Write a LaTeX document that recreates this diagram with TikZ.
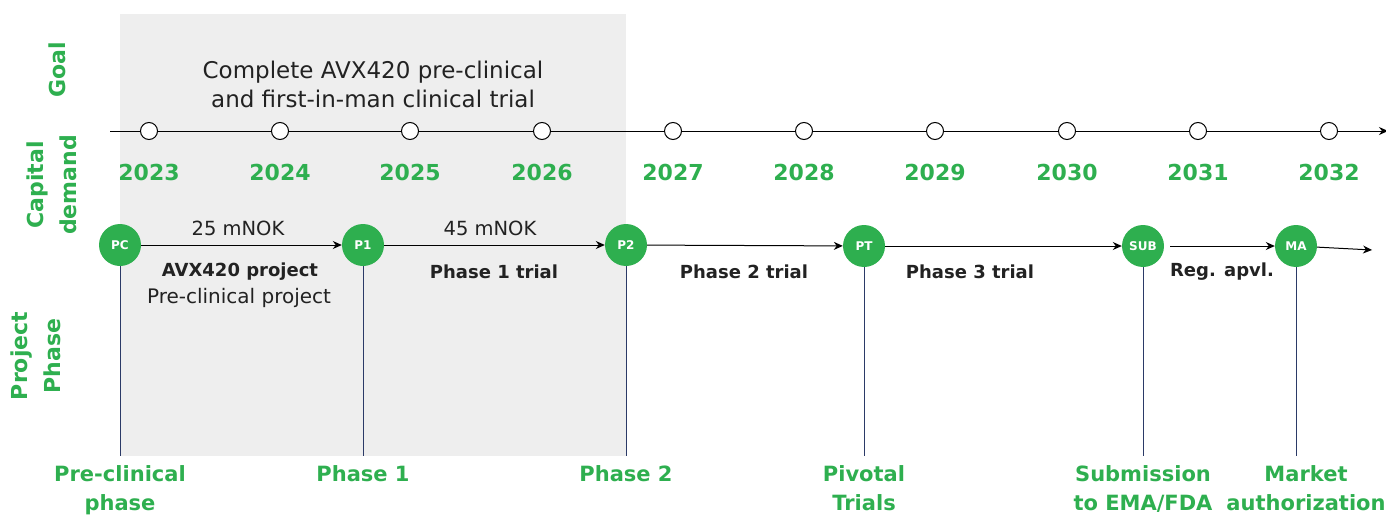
\documentclass[tikz,border=0pt]{standalone}
\usepackage{fontspec}
\setmainfont{DejaVu Sans}
\usetikzlibrary{arrows.meta}
\definecolor{ggreen}{HTML}{2EAF4F}
\definecolor{gbg}{HTML}{EEEEEE}
\definecolor{vline}{HTML}{2B3A67}
\definecolor{txt}{HTML}{222222}
\begin{document}
\begin{tikzpicture}[x=1pt,y=-1pt,
  yearmark/.style={circle,draw=black,fill=white,line width=1pt,minimum size=17pt,inner sep=0pt},
  yearlab/.style={text=ggreen,font=\bfseries\fontsize{22}{28}\selectfont},
  mile/.style={circle,fill=ggreen,minimum size=42pt,inner sep=0pt,text=white,font=\bfseries\fontsize{12}{14}\selectfont},
  side/.style={text=ggreen,font=\bfseries\fontsize{22}{33}\selectfont,align=center,rotate=90},
  bottomlab/.style={text=ggreen,font=\bfseries\fontsize{21}{29}\selectfont,align=center,anchor=north},
  phaselab/.style={text=txt,font=\bfseries\fontsize{18}{24}\selectfont},
  plain/.style={text=txt,font=\fontsize{19.5}{24}\selectfont},
  flow/.style={-{Stealth[length=9pt,width=8pt]},line width=1pt,black},
  drop/.style={vline,line width=1pt}]
\useasboundingbox (0,0) rectangle (1386,519);
\fill[gbg] (120,14) rectangle (626,456);
% side labels
\node[side] (goal) at (57,70) {Goal};
\node[side] (cap) at (52,185) {Capital\\demand};
\node[side] (proj) at (36,356) {Project\\Phase};
% goal text
\node[text=txt,font=\fontsize{23}{29}\selectfont,align=center] (goaltext) at (373,84) {Complete AVX420 pre-clinical\\and first-in-man clinical trial};
% axis
\coordinate (axs) at (110,131);
\coordinate (axe) at (1388,131);
\draw[flow] (axs) -- (axe);
\foreach \yr/\x in {2023/149,2024/280,2025/410,2026/542,2027/673,2028/804,2029/935,2030/1067,2031/1198,2032/1329}{
  \node[yearmark] (m\yr) at (\x,131) {};
  \node[yearlab] (y\yr) at (\x,172) {\yr};
}
% milestones
\node[mile] (PC) at (120,245) {PC};
\node[mile] (P1) at (363,245) {P1};
\node[mile] (P2) at (626,245) {P2};
\node[mile] (PT) at (864,246) {PT};
\node[mile] (SUB) at (1143,246) {SUB};
\node[mile] (MA) at (1296,246) {MA};
\coordinate (end) at (1372,250);
% drop lines
\foreach \n/\x in {PC/120,P1/363,P2/626,PT/864,SUB/1143,MA/1296}{
  \coordinate (b\n) at (\x,456);
  \draw[drop] (\n.south) -- (b\n);
}
\draw[flow] (PC) -- (P1);
\draw[flow] (P1) -- (P2);
\draw[flow] (P2) -- (PT);
\draw[flow] (PT) -- (SUB);
\draw[flow] ([xshift=6pt]SUB.east) -- (MA);
\draw[flow] (MA) -- (end);
% labels
\node[plain] (c1) at (238,228) {25 mNOK};
\node[plain] (c2) at (490,228) {45 mNOK};
\node[phaselab] (l1) at (240,272) {AVX420 project};
\node[font=\fontsize{20}{24}\selectfont,text=txt] (l1b) at (239,298) {Pre-clinical project};
\node[phaselab] (l2) at (494,272) {Phase 1 trial};
\node[phaselab] (l3) at (744,272) {Phase 2 trial};
\node[phaselab] (l4) at (970,272) {Phase 3 trial};
\node[phaselab] (l5) at (1222,272) {Reg. apvl.};
% bottom labels
\node[bottomlab] (t1) at (120,462) {Pre-clinical\\phase};
\node[bottomlab] (t2) at (363,462) {Phase 1};
\node[bottomlab] (t3) at (626,462) {Phase 2};
\node[bottomlab] (t4) at (864,462) {Pivotal\\Trials};
\node[bottomlab] (t5) at (1143,462) {Submission\\to EMA/FDA};
\node[bottomlab] (t6) at (1306,462) {Market\\authorization};
\end{tikzpicture}
\end{document}
